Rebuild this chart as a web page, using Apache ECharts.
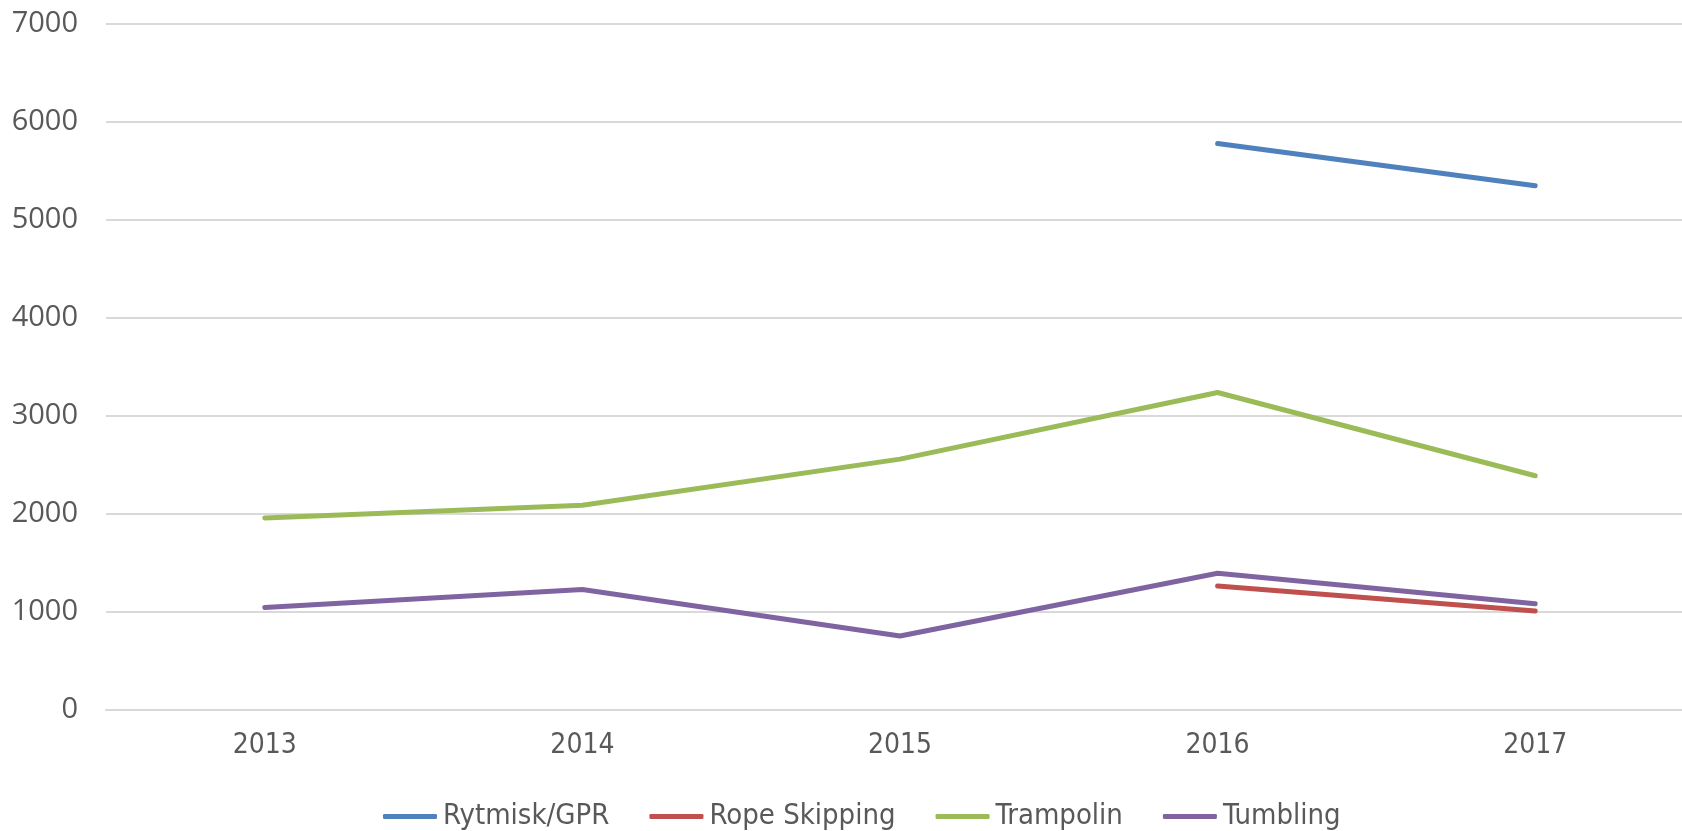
<!DOCTYPE html>
<html>
<head>
<meta charset="utf-8">
<script src="https://cdn.jsdelivr.net/npm/echarts@6/dist/echarts.min.js"></script>
<style>
  html, body { margin: 0; padding: 0; background: #fff; overflow: hidden; }
  #chart { width: 1694px; height: 831px; }
</style>
</head>
<body>
<div id="chart"></div>
<script>
// years on the x axis
const years = ['2013', '2014', '2015', '2016', '2017']

// series values (null = no data that year)
const rytmisk = [null, null, null, 5780, 5350]
const ropeSkipping = [null, null, null, 1265, 1010]
const trampolin = [1960, 2090, 2560, 3240, 2390]
const tumbling = [1045, 1230, 755, 1395, 1085]

const seriesNames = ['Rytmisk/GPR', 'Rope Skipping', 'Trampolin', 'Tumbling']
const colors = ['#4F81BD', '#C0504D', '#9BBB59', '#8064A2']

const narrowFont = "'Liberation Sans Narrow', 'DejaVu Sans Condensed', 'Noto Sans', sans-serif"

// the plot area runs a little past the right edge of the window, like the original
const chart = echarts.init(document.getElementById('chart'))

const makeLine = (name, data, i) => ({
    name,
    type: 'line',
    data,
    showSymbol: false,
    connectNulls: false,
    lineStyle: { width: 5, color: colors[i], cap: 'round', join: 'round' },
    itemStyle: { color: colors[i] },
})

chart.setOption({
    animation: false,
    grid: { left: 106, top: 24, right: 0, bottom: 121, containLabel: false },
    legend: {
        top: 797,
        left: 378,
        icon: 'roundRect',
        itemWidth: 54,
        itemHeight: 5,
        itemGap: 40,
        textStyle: { fontFamily: narrowFont, fontSize: 29, color: '#595959', padding: [0, 0, 0, 1] },
        data: seriesNames,
    },
    xAxis: {
        type: 'category',
        data: years,
        axisLine: { lineStyle: { color: '#D9D9D9', width: 2 } },
        axisTick: { show: false },
        axisLabel: { fontFamily: narrowFont, fontSize: 28, color: '#595959', margin: 22 },
    },
    yAxis: {
        type: 'value',
        min: 0,
        max: 7000,
        interval: 1000,
        axisLine: { show: false },
        axisTick: { show: false },
        splitLine: { lineStyle: { color: '#D9D9D9', width: 2 } },
        axisLabel: { fontFamily: 'Open Sans', fontSize: 29, color: '#595959', margin: 28, formatter: v => String(v) },
    },
    series: [
        makeLine(seriesNames[0], rytmisk, 0),
        makeLine(seriesNames[1], ropeSkipping, 1),
        makeLine(seriesNames[2], trampolin, 2),
        makeLine(seriesNames[3], tumbling, 3),
    ],
})
</script>
</body>
</html>
